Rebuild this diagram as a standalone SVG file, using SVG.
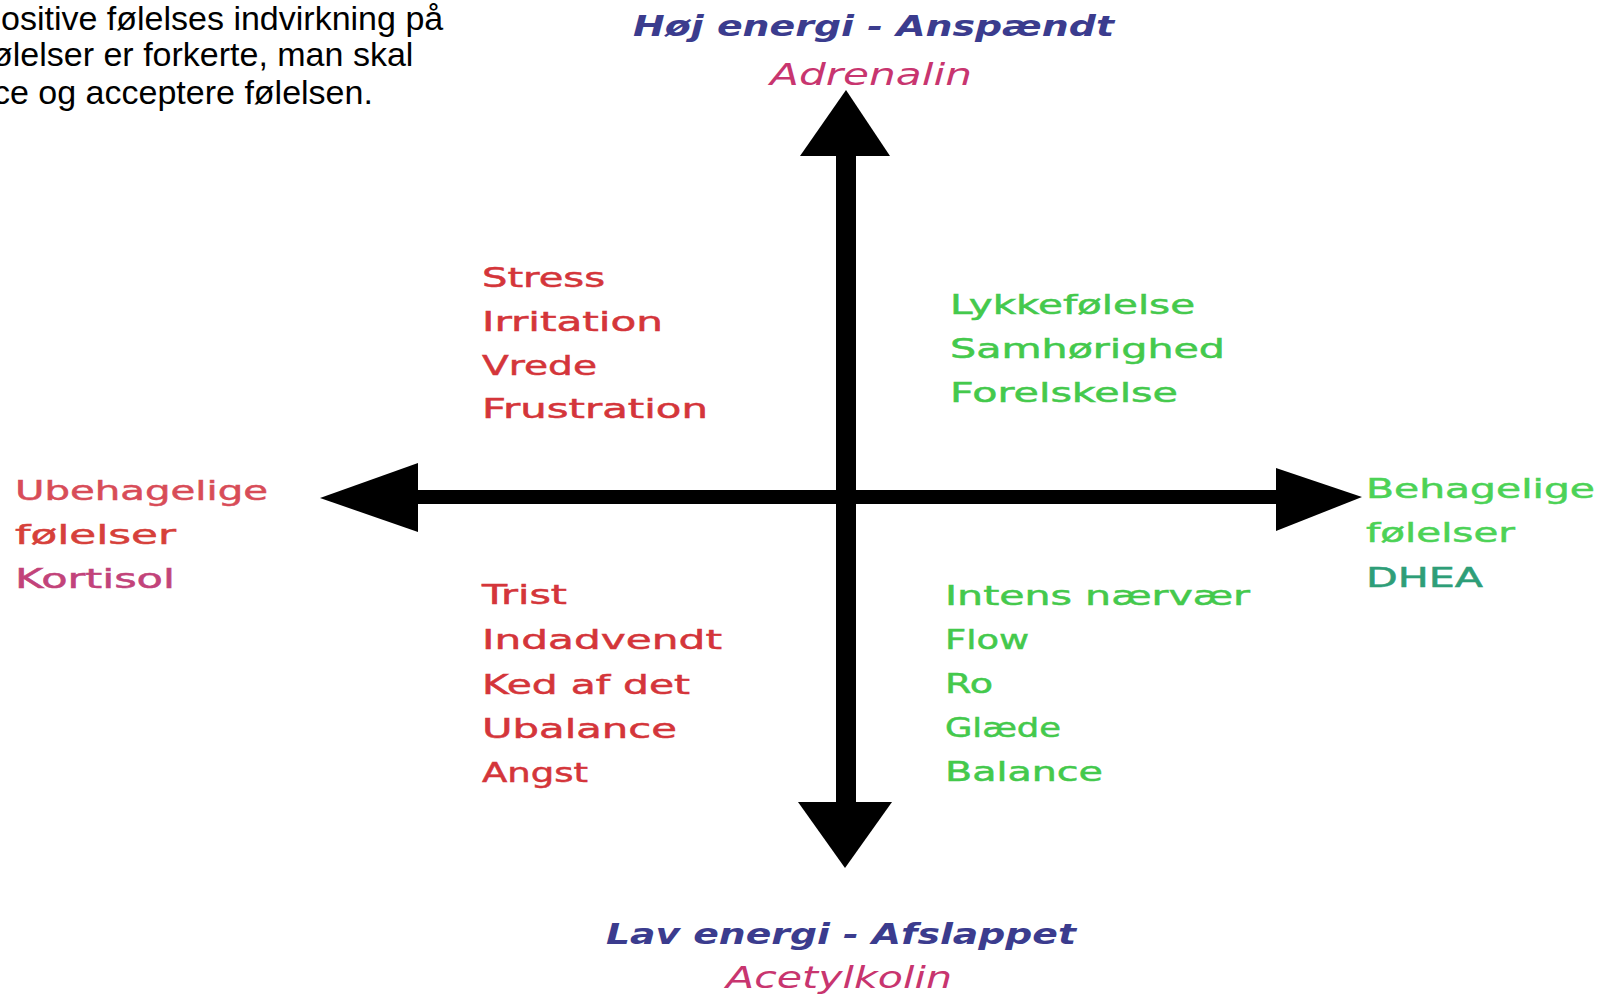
<svg xmlns="http://www.w3.org/2000/svg" width="1603" height="995" viewBox="0 0 1603 995">
<style>
.para{font-family:"Liberation Sans",Arial,sans-serif;font-size:34px;fill:#000}
.lbl{font-family:"DejaVu Sans",Verdana,sans-serif;font-size:26px;stroke-width:0.5px}
.ttl{font-family:"DejaVu Sans",Verdana,sans-serif;font-size:29px;font-weight:bold;font-style:italic;fill:#3b3c8e}
.sub{font-family:"DejaVu Sans",Verdana,sans-serif;font-size:31px;font-style:italic;fill:#c8356f}
.red{fill:#d4353a;stroke:#d4353a}
.grn{fill:#44c94c;stroke:#44c94c}
.arrow{fill:#000}
</style>
<rect width="1603" height="995" fill="#fff"/>
<g id="paragraph">
<text class="para" x="1" y="30">ositive følelses indvirkning på</text>
<text class="para" x="-8" y="66">ølelser er forkerte, man skal</text>
<text class="para" x="-7" y="104">ce og acceptere følelsen.</text>
</g>
<g id="connectors">
<rect class="arrow" x="836" y="150" width="20" height="656"/>
<polygon class="arrow" points="846,90 890,156 800,156"/>
<polygon class="arrow" points="798,802 892,802 845,868"/>
<rect class="arrow" x="412" y="490" width="868" height="14"/>
<polygon class="arrow" points="320,498 418,463 418,532"/>
<polygon class="arrow" points="1276,468 1362,497 1276,531"/>
</g>
<g id="top-label">
<text class="ttl" x="633" y="36" textLength="481" lengthAdjust="spacingAndGlyphs">Høj energi - Anspændt</text>
<text class="sub" x="770" y="85" textLength="202" lengthAdjust="spacingAndGlyphs">Adrenalin</text>
</g>
<g id="bottom-label">
<text class="ttl" x="606" y="944" textLength="470" lengthAdjust="spacingAndGlyphs">Lav energi - Afslappet</text>
<text class="sub" x="726" y="988" textLength="226" lengthAdjust="spacingAndGlyphs">Acetylkolin</text>
</g>
<g id="left-label">
<text class="lbl" x="15" y="500" fill="#d84c58" stroke="#d84c58" textLength="253" lengthAdjust="spacingAndGlyphs">Ubehagelige</text>
<text class="lbl" x="15" y="544" fill="#d6403a" stroke="#d6403a" textLength="161" lengthAdjust="spacingAndGlyphs">følelser</text>
<text class="lbl" x="15" y="588" fill="#c2437a" stroke="#c2437a" textLength="160" lengthAdjust="spacingAndGlyphs">Kortisol</text>
</g>
<g id="right-label">
<text class="lbl" x="1366" y="498" fill="#4cd256" stroke="#4cd256" textLength="229" lengthAdjust="spacingAndGlyphs">Behagelige</text>
<text class="lbl" x="1366" y="542" fill="#4cd256" stroke="#4cd256" textLength="149" lengthAdjust="spacingAndGlyphs">følelser</text>
<text class="lbl" x="1366" y="587" fill="#2e9e78" stroke="#2e9e78" textLength="117" lengthAdjust="spacingAndGlyphs">DHEA</text>
</g>
<g id="quadrant-top-left">
<text class="lbl red" x="482" y="287" textLength="123" lengthAdjust="spacingAndGlyphs">Stress</text>
<text class="lbl red" x="482" y="331" textLength="181" lengthAdjust="spacingAndGlyphs">Irritation</text>
<text class="lbl red" x="482" y="375" textLength="115" lengthAdjust="spacingAndGlyphs">Vrede</text>
<text class="lbl red" x="482" y="418" textLength="226" lengthAdjust="spacingAndGlyphs">Frustration</text>
</g>
<g id="quadrant-top-right">
<text class="lbl grn" x="950" y="314" textLength="245" lengthAdjust="spacingAndGlyphs">Lykkefølelse</text>
<text class="lbl grn" x="950" y="358" textLength="275" lengthAdjust="spacingAndGlyphs">Samhørighed</text>
<text class="lbl grn" x="950" y="402" textLength="228" lengthAdjust="spacingAndGlyphs">Forelskelse</text>
</g>
<g id="quadrant-bottom-left">
<text class="lbl red" x="482" y="604" textLength="85" lengthAdjust="spacingAndGlyphs">Trist</text>
<text class="lbl red" x="482" y="649" textLength="240" lengthAdjust="spacingAndGlyphs">Indadvendt</text>
<text class="lbl red" x="482" y="694" textLength="208" lengthAdjust="spacingAndGlyphs">Ked af det</text>
<text class="lbl red" x="482" y="738" textLength="195" lengthAdjust="spacingAndGlyphs">Ubalance</text>
<text class="lbl red" x="482" y="782" textLength="106" lengthAdjust="spacingAndGlyphs">Angst</text>
</g>
<g id="quadrant-bottom-right">
<text class="lbl grn" x="945" y="605" textLength="305" lengthAdjust="spacingAndGlyphs">Intens nærvær</text>
<text class="lbl grn" x="945" y="649" textLength="84" lengthAdjust="spacingAndGlyphs">Flow</text>
<text class="lbl grn" x="945" y="693" textLength="48" lengthAdjust="spacingAndGlyphs">Ro</text>
<text class="lbl grn" x="945" y="737" textLength="116" lengthAdjust="spacingAndGlyphs">Glæde</text>
<text class="lbl grn" x="945" y="781" textLength="158" lengthAdjust="spacingAndGlyphs">Balance</text>
</g>
</svg>
